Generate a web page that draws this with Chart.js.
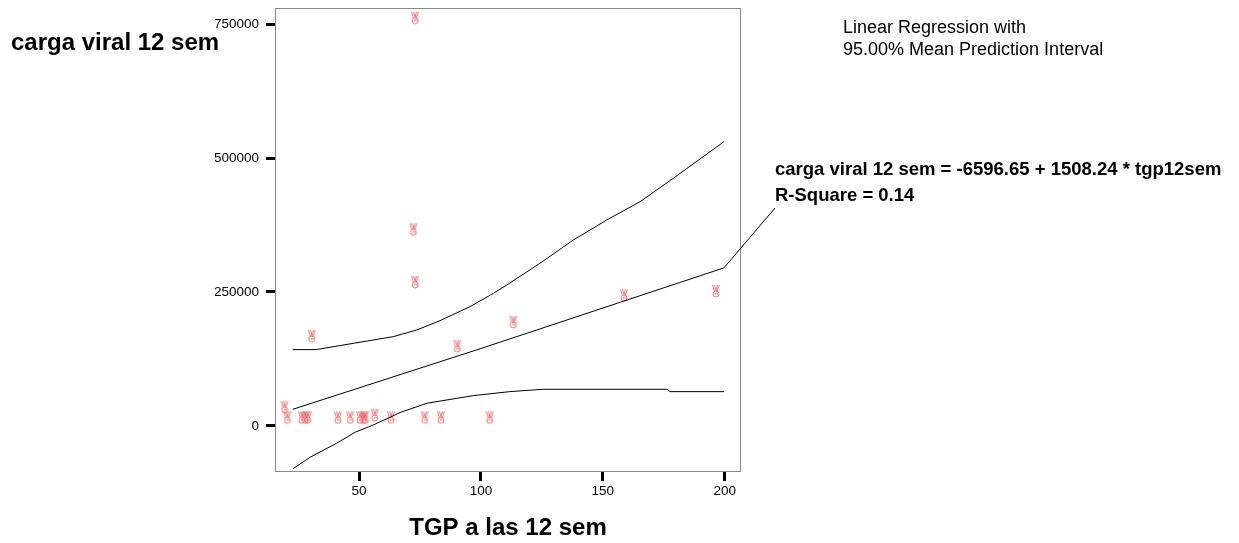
<!DOCTYPE html>
<html>
<head>
<meta charset="utf-8">
<script src="https://cdn.jsdelivr.net/npm/chart.js@4.4.1/dist/chart.umd.min.js"></script>
<style>
  html, body { margin: 0; padding: 0; background: #fff; }
  #wrap { width: 1239px; height: 543px; }
</style>
</head>
<body>
<div id="wrap"><canvas id="regChart" width="1239" height="543"></canvas></div>
<script>
// observed points: TGP a las 12 sem (x) vs carga viral 12 sem (y)
const tgpValues = [73, 72.3, 73, 30.6, 90.3, 113.3, 158.7, 196.4, 19.4, 20.6,
                   26.5, 27.9, 29.0, 41.3, 46.4, 50.4, 51.8, 52.6, 56.4, 63.1,
                   76.9, 83.6, 103.6];
const cargaValues = [762000, 367000, 269000, 168000, 149000, 194000, 244000, 252000, 35000, 16000,
                     16000, 16000, 16000, 16000, 16000, 16000, 16000, 16000, 20500, 16000,
                     16000, 16000, 16000];

// fitted line
const fitX = [22.8, 100, 199.7];
const fitY = [31000, 144500, 295000];

// 95% mean prediction interval, upper and lower curves
const upperX = [22.8, 32.4, 47.7, 64.1, 73.7, 83.2, 95.5, 105.1, 110.6, 124.2, 137.9, 151.6, 165.3, 178.9, 199.7];
const upperY = [142400, 142400, 154200, 166700, 179100, 196500, 222600, 247500, 263100, 303500, 347000, 384300, 418500, 462100, 530500];
const lowerX = [22.8, 29.9, 40.8, 48.4, 55.9, 66.8, 77.8, 96.9, 111.9, 125.6, 176.2, 177.6, 199.7];
const lowerY = [-80200, -58500, -32300, -11800, 1900, 24900, 42300, 56600, 64000, 68400, 68400, 64000, 64000];

const xTickValues = [50, 100, 150, 200];
const yTickValues = [0, 250000, 500000, 750000];

const yTitle = 'carga viral 12 sem';
const xTitle = 'TGP a las 12 sem';
const methodText = ['Linear Regression with', '95.00% Mean Prediction Interval'];
const equationText = ['carga viral 12 sem = -6596.65 + 1508.24 * tgp12sem', 'R-Square = 0.14'];

const FONT = '"Liberation Sans", Arial, sans-serif';

function pairs(xs, ys) {
  return xs.map((x, i) => ({ x: x, y: ys[i] }));
}

// the little "victory hand" marker used for each case
function makeMarker() {
  const c = document.createElement('canvas');
  c.width = 12;
  c.height = 14;
  const g = c.getContext('2d');
  g.strokeStyle = 'rgba(240, 80, 80, 0.8)';
  g.lineWidth = 1;
  // two fingers
  g.beginPath();
  g.moveTo(2.5, 1); g.lineTo(4.5, 7.5);
  g.moveTo(4.5, 1); g.lineTo(6, 6.5);
  g.moveTo(9.5, 1); g.lineTo(7, 7.5);
  g.moveTo(7.5, 1); g.lineTo(6, 6.5);
  g.stroke();
  // fist
  g.beginPath();
  g.arc(6, 10, 3, 0, Math.PI * 2);
  g.stroke();
  g.beginPath();
  g.arc(6.5, 10.5, 1.3, Math.PI, Math.PI * 2);
  g.stroke();
  return c;
}

const framePlugin = {
  id: 'frame',
  afterDatasetsDraw(chart) {
    const a = chart.chartArea;
    const ctx = chart.ctx;
    ctx.save();
    ctx.strokeStyle = '#8a8a8a';
    ctx.lineWidth = 1;
    ctx.strokeRect(a.left + 0.5, a.top + 0.5, a.right - a.left - 1, a.bottom - a.top - 1);
    ctx.restore();
  }
};

const textPlugin = {
  id: 'texts',
  afterDraw(chart) {
    const ctx = chart.ctx;
    ctx.save();
    ctx.fillStyle = '#000';
    ctx.textBaseline = 'alphabetic';
    ctx.textAlign = 'left';

    ctx.font = 'bold 24px ' + FONT;
    ctx.fillText(yTitle, 11, 50);

    ctx.font = '18px ' + FONT;
    ctx.fillText(methodText[0], 843, 33);
    ctx.fillText(methodText[1], 843, 55);

    const eqX = 775, eqY = 175;
    ctx.font = 'bold 18.5px ' + FONT;
    ctx.fillText(equationText[0], eqX, eqY);
    ctx.fillText(equationText[1], eqX, eqY + 26);

    // leader from end of the fit line to the equation
    const xs = chart.scales.x, ys = chart.scales.y;
    const n = fitX.length - 1;
    ctx.strokeStyle = '#000';
    ctx.lineWidth = 1;
    ctx.beginPath();
    ctx.moveTo(xs.getPixelForValue(fitX[n]), ys.getPixelForValue(fitY[n]));
    ctx.lineTo(eqX, eqY + 33);
    ctx.stroke();
    ctx.restore();
  }
};

const lineStyle = {
  type: 'line',
  borderColor: '#000',
  borderWidth: 1,
  pointRadius: 0,
  fill: false,
  tension: 0
};

const ctx = document.getElementById('regChart').getContext('2d');
const regChart = new Chart(ctx, {
  type: 'scatter',
  data: {
    datasets: [
      Object.assign({ data: pairs(upperX, upperY) }, lineStyle),
      Object.assign({ data: pairs(fitX, fitY) }, lineStyle),
      Object.assign({ data: pairs(lowerX, lowerY) }, lineStyle),
      {
        type: 'scatter',
        data: pairs(tgpValues, cargaValues),
        pointStyle: makeMarker(),
        pointRadius: 7
      }
    ]
  },
  options: {
    responsive: false,
    animation: false,
    devicePixelRatio: 1,
    layout: { padding: { left: 215, right: 498, top: 8, bottom: 0 } },
    plugins: {
      legend: { display: false },
      tooltip: { enabled: false }
    },
    scales: {
      x: {
        type: 'linear',
        min: 15.5,
        max: 206.7,
        afterFit(scale) { scale.height = 71; scale.paddingLeft = 0; scale.paddingRight = 0; },
        afterBuildTicks(scale) { scale.ticks = xTickValues.map(v => ({ value: v })); },
        grid: { drawOnChartArea: false, drawTicks: true, tickLength: 9, tickWidth: 3, tickColor: '#000' },
        border: { display: false },
        ticks: { color: '#000', padding: 2, font: { family: FONT, size: 13.5 } },
        title: { display: true, text: xTitle, color: '#000', padding: 0, font: { family: FONT, size: 24, weight: 'bold' } }
      },
      y: {
        type: 'linear',
        min: -86000,
        max: 780000,
        afterFit(scale) { scale.width = 60; scale.paddingTop = 0; scale.paddingBottom = 0; },
        afterBuildTicks(scale) { scale.ticks = yTickValues.map(v => ({ value: v })); },
        grid: { drawOnChartArea: false, drawTicks: true, tickLength: 9, tickWidth: 3, tickColor: '#000' },
        border: { display: false },
        ticks: { color: '#000', padding: 7, font: { family: FONT, size: 13.5 }, callback: v => String(v) }
      }
    }
  },
  plugins: [framePlugin, textPlugin]
});
</script>
</body>
</html>
